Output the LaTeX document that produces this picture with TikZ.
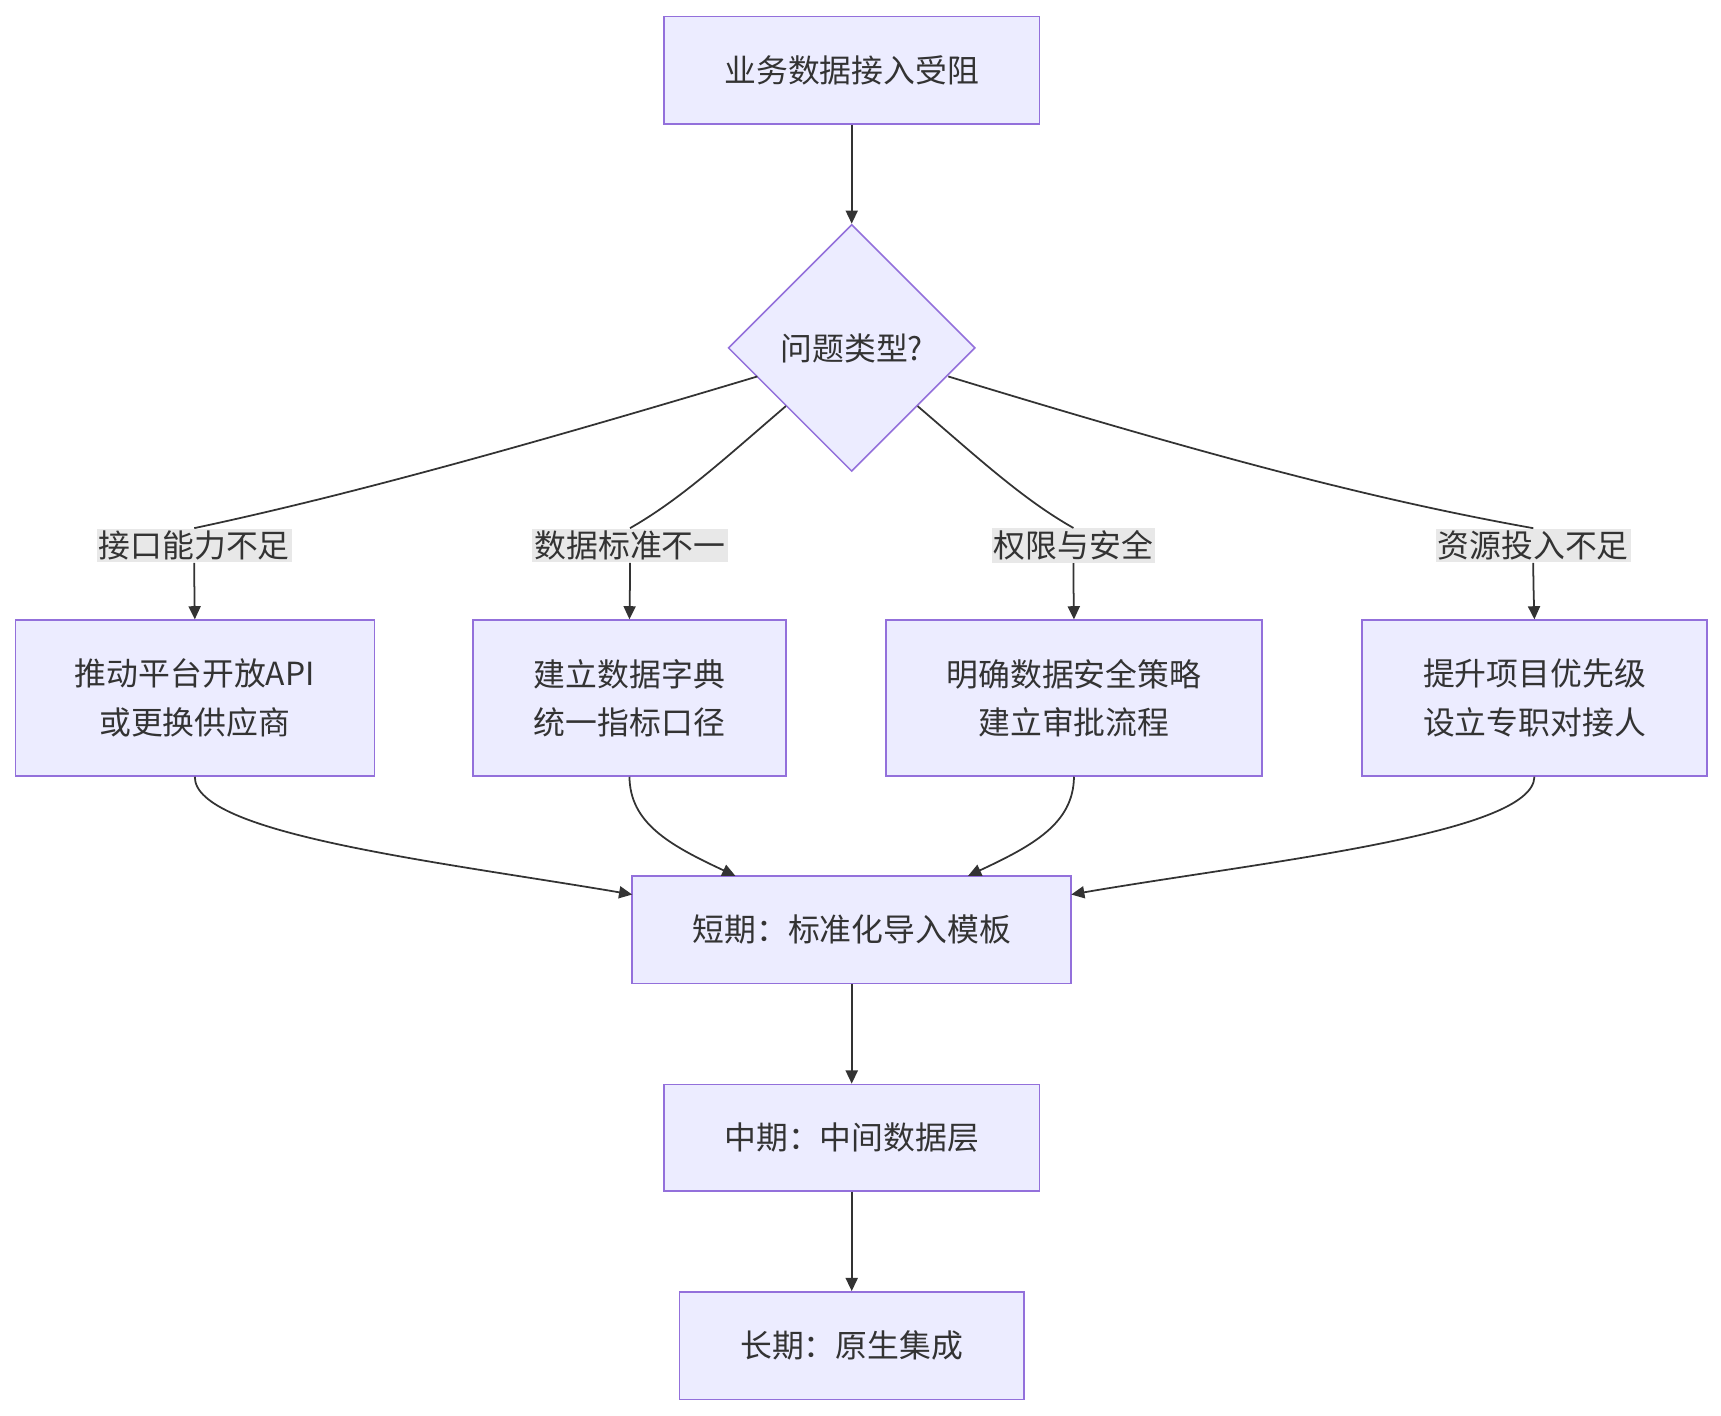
\documentclass[tikz,border=0pt]{standalone}
\usepackage{fontspec}
\setmainfont{Noto Sans CJK SC}
\usetikzlibrary{arrows.meta,shapes.geometric}
\definecolor{nfill}{HTML}{ECECFF}
\definecolor{nstroke}{HTML}{9370DB}
\definecolor{ln}{HTML}{333333}
\definecolor{lbg}{HTML}{E8E8E8}
\begin{document}
\begin{tikzpicture}[x=0.5pt,y=-0.5pt,
 box/.style={draw=nstroke,fill=nfill,line width=0.7pt,inner sep=0pt,align=center,text=ln,font=\fontsize{14.5}{22}\selectfont},
 lab/.style={fill=lbg,inner sep=1pt,text=ln,font=\fontsize{14.5}{18}\selectfont},
 ed/.style={draw=ln,line width=0.8pt},
 arr/.style={ed,-{Triangle[length=6pt,width=5.5pt]}}]
\useasboundingbox (0,0) rectangle (1568,1290);
\node[box,minimum width=342\pgflinewidth,minimum width=171pt,minimum height=49pt] (top) at (776,64) {业务数据接入受阻};
\node[box,diamond,aspect=1,minimum width=112.5pt,minimum height=112.5pt] (q) at (776,317) {问题类型?};
\node[box,minimum width=163.5pt,minimum height=71pt] (b1) at (177.5,636) {推动平台开放API\\或更换供应商};
\node[box,minimum width=142.5pt,minimum height=71pt] (b2) at (573.5,636) {建立数据字典\\统一指标口径};
\node[box,minimum width=171.5pt,minimum height=71pt] (b3) at (978.5,636) {明确数据安全策略\\建立审批流程};
\node[box,minimum width=157pt,minimum height=71pt] (b4) at (1398,636) {提升项目优先级\\设立专职对接人};
\node[box,minimum width=200pt,minimum height=49pt] (s) at (776,847) {短期：标准化导入模板};
\node[box,minimum width=171pt,minimum height=48.5pt] (m) at (776,1036.5) {中期：中间数据层};
\node[box,minimum width=157pt,minimum height=49pt] (l) at (776,1226) {长期：原生集成};
\node[lab] (l1) at (177,497) {接口能力不足};
\node[lab] (l2) at (574,497) {数据标准不一};
\node[lab] (l3) at (978,497) {权限与安全};
\node[lab] (l4) at (1397,497) {资源投入不足};
\draw[arr] (top) -- (q);
\draw[ed] (690,343) .. controls (450,415) and (300,455) .. (l1.north);
\draw[arr] (l1.south) .. controls (177,525) and (177,530) .. (b1.north);
\draw[ed] (716,370) .. controls (660,418) and (620,455) .. (l2.north);
\draw[arr] (l2.south) .. controls (574,525) and (574,530) .. (b2.north);
\draw[ed] (836,370) .. controls (892,418) and (932,455) .. (l3.north);
\draw[arr] (l3.south) .. controls (978,525) and (978,530) .. (b3.north);
\draw[ed] (864,343) .. controls (1100,415) and (1250,455) .. (l4.north);
\draw[arr] (l4.south) .. controls (1397,525) and (1397,530) .. (b4.north);
\draw[arr] (b1.south) .. controls (177,760) and (400,785) .. (576,815);
\draw[arr] (b2.south) .. controls (574,750) and (610,770) .. (670,798);
\draw[arr] (b3.south) .. controls (978,750) and (942,770) .. (882,798);
\draw[arr] (b4.south) .. controls (1397,760) and (1150,785) .. (976,815);
\draw[arr] (s) -- (m);
\draw[arr] (m) -- (l);
\end{tikzpicture}
\end{document}
